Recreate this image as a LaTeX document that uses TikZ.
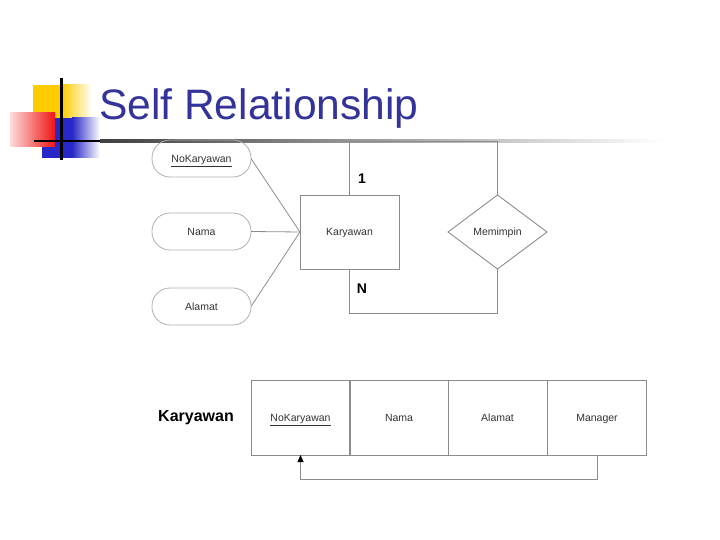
\documentclass[tikz,border=0pt]{standalone}
\usepackage{fontspec}
\setmainfont{Liberation Sans}
\usetikzlibrary{arrows.meta,shapes.geometric,calc}
\definecolor{titleblue}{RGB}{51,51,153}
\definecolor{deco yellow}{RGB}{255,204,0}
\definecolor{deco blue}{RGB}{40,40,200}
\definecolor{deco red}{RGB}{240,20,20}
\definecolor{erline}{RGB}{140,140,140}
\definecolor{ertext}{RGB}{50,50,50}
\begin{document}
\begin{tikzpicture}[x=1pt,y=-1pt,
  every node/.style={inner sep=0pt,outer sep=0pt},
  lbl/.style={font=\fontsize{10.5}{12}\selectfont,text=ertext,text height=7.6pt,text depth=0pt},
  attr/.style={lbl,draw=erline!70,line width=0.8pt,rounded corners=18pt,minimum width=99pt,minimum height=37pt},
  ent/.style={lbl,draw=erline,line width=0.9pt,minimum width=99pt,minimum height=74pt},
  rel/.style={lbl,draw=erline,line width=0.9pt,diamond,minimum width=99pt,minimum height=74pt,aspect=1.34},
  cell/.style={lbl,draw=erline,line width=1pt,minimum width=99pt,minimum height=75pt},
  conn/.style={draw=erline,line width=0.8pt},
  card/.style={font=\fontsize{14}{16}\selectfont\bfseries}]
\useasboundingbox (0,0) rectangle (720,540);
% decoration
\fill[deco yellow] (33,85) rectangle (62,119);
\shade[left color=deco yellow,right color=white] (62,85) rectangle (92,119);
\fill[deco blue] (42,118) rectangle (72,158);
\shade[left color=deco blue,right color=white] (72,118) rectangle (100,158);
\shade[left color=deco red!15,right color=deco red] (10,113) rectangle (55,147);
\fill[black] (60,78) rectangle (62.5,160);
\fill[black] (34,140) rectangle (100,142.5);
\shade[left color=black!75,right color=white] (100,140) rectangle (665,142.5);
% title
\node[anchor=base west,text=titleblue,font=\fontsize{42.6}{46}\selectfont] (title) at (99,119.5) {Self Relationship};
% ER diagram
\node[attr] (nk) at (201.5,158.5) {\underline{NoKaryawan}};
\node[attr] (nm) at (201.5,231.5) {Nama};
\node[attr] (al) at (201.5,306.5) {Alamat};
\node[ent] (kar) at (349.5,232) {Karyawan};
\node[rel] (mem) at (497.5,232) {Memimpin};
\coordinate (top) at (497.5,141);
\coordinate (bot) at (497.5,313);
\draw[conn] (nk.east) -- (kar.west);
\draw[conn] (nm.east) -- (kar.west);
\draw[conn] (al.east) -- (kar.west);
\draw[conn] (kar.north) |- (top) -- (mem.north);
\draw[conn] (mem.south) -- (bot) -| (kar.south);
\node[card] (one) at (362,179) {1};
\node[card] (nn) at (362,289) {N};
% relation table
\node[font=\fontsize{16}{18}\selectfont\bfseries] (tname) at (196,417.5) {Karyawan};
\node[cell] (c1) at (300.5,417.5) {\underline{NoKaryawan}};
\node[cell] (c2) at (399,417.5) {Nama};
\node[cell] (c3) at (497.5,417.5) {Alamat};
\node[cell] (c4) at (597,417.5) {Manager};
\draw[conn,-{Triangle[length=7pt,width=6pt,color=black]}] (c4.south) -- ++(0,24) -| (c1.south);
\end{tikzpicture}
\end{document}
